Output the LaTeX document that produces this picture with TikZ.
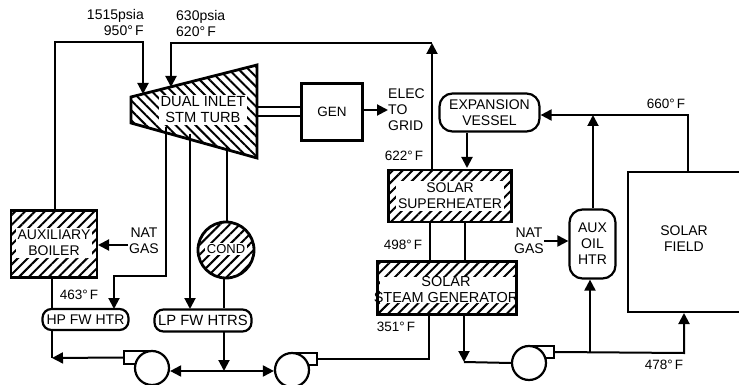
\documentclass[tikz,border=0pt]{standalone}
\usepackage{fontspec}
\setmainfont{Liberation Sans}
\usetikzlibrary{arrows.meta, patterns.meta}
\tikzset{
  lbl/.style={font=\fontsize{14}{16}\selectfont, inner sep=0pt, align=center},
  lblat/.style={font=\fontsize{#1}{16}\selectfont},
  temp/.style={lbl, lblat=13.5},
  hatchbox/.style={draw, line width=2.8pt, inner sep=0pt, pattern={Lines[angle=45,distance=7pt,line width=2pt]}},
  patch/.style={lbl, fill=white, inner xsep=2pt, inner ysep=2pt},
  vessel/.style={draw, line width=2.2pt, inner sep=0pt, fill=white},
  pipe/.style={line width=2pt},
  wheel/.style={draw, circle, line width=2.2pt, fill=white, minimum size=34pt, inner sep=0pt},
  volute/.style={draw, line width=2.2pt, fill=white, inner sep=0pt}
}
\begin{document}
\begin{tikzpicture}[x=1pt, y=-1pt, >={Triangle[width=11pt,length=11pt]}]
  \useasboundingbox (0,0) rectangle (739,385);
  % Turbine
  \coordinate (turbNW) at (131,97); \coordinate (turbNE) at (257,65);
  \coordinate (turbSE) at (257,158); \coordinate (turbSW) at (131,123);
  \draw[line width=2.8pt, line join=miter, pattern={Lines[angle=-45,distance=7pt,line width=2pt]}]
    (turbNW) -- (turbNE) -- (turbSE) -- (turbSW) -- cycle;
  \node[patch, lblat=14.7] (turbtext) at (203,110) {DUAL INLET\\STM TURB};
  % Hatched boxes
  \node[hatchbox, minimum width=86pt, minimum height=67pt] (boiler) at (54,244) {};
  \node[patch] (boilertext) at (54,243) {AUXILIARY\\BOILER};
  \node[hatchbox, circle, minimum size=56pt] (cond) at (226,250) {};
  \node[patch, lblat=13, inner ysep=1pt] (condtext) at (226,249) {COND};
  \node[hatchbox, minimum width=123pt, minimum height=52pt] (superheater) at (450,196) {};
  \node[patch] (superheatertext) at (450,196) {SOLAR\\SUPERHEATER};
  \node[hatchbox, minimum width=139pt, minimum height=53pt] (steamgen) at (447,288) {};
  \node[fill=white, inner sep=0pt, minimum width=135pt, minimum height=26pt] (steamgenpatch) at (447,290) {};
  \node[lbl, lblat=14.5] (steamgentext) at (446,290) {SOLAR\\STEAM GENERATOR};
  % Plain boxes
  \node[draw, line width=2.4pt, minimum width=61pt, minimum height=57pt, lbl, lblat=13.5] (gen) at (332,112) {GEN};
  \node[vessel, lbl, minimum width=100pt, minimum height=38pt, rounded corners=13pt] (expansion) at (489.5,112.5) {EXPANSION\\VESSEL};
  \node[vessel, lbl, minimum width=46pt, minimum height=69pt, rounded corners=13pt] (auxoil) at (592.5,244) {AUX\\OIL\\HTR};
  \node[vessel, lbl, minimum width=86pt, minimum height=21pt, rounded corners=9pt] (hphtr) at (85.5,319.5) {HP FW HTR};
  \node[vessel, lbl, lblat=14.8, minimum width=97pt, minimum height=22pt, rounded corners=9pt] (lphtr) at (203,320.5) {LP FW HTRS};
  % Solar field
  \coordinate (fieldNE) at (739,172); \coordinate (fieldNW) at (628,172);
  \coordinate (fieldSW) at (628,312); \coordinate (fieldSE) at (739,312);
  \draw[line width=2.8pt] (fieldNE) -- (fieldNW) -- (fieldSW) -- (fieldSE);
  \node[lbl] (fieldtext) at (684,239) {SOLAR\\FIELD};
  % Pumps
  \node[volute, minimum width=28pt, minimum height=13pt] (voluteA) at (138,357.5) {};
  \node[wheel] (pumpA) at (152,368) {};
  \node[volute, minimum width=26pt, minimum height=12pt] (voluteB) at (304,359) {};
  \node[wheel] (pumpB) at (292,370) {};
  \node[volute, minimum width=26pt, minimum height=12pt] (voluteC) at (541,352) {};
  \node[wheel] (pumpC) at (529,363) {};
  % Steam lines
  \coordinate (hpcornerA) at (55,42); \coordinate (hpcornerB) at (143,42); \coordinate (hpinlet) at (143,94);
  \coordinate (boilertop) at (55,210);
  \draw[pipe, ->] (boilertop) -- (hpcornerA) -- (hpcornerB) -- (hpinlet);
  \coordinate (shtop) at (432,169); \coordinate (shcorner) at (432,43);
  \coordinate (ipcorner) at (171,43); \coordinate (ipinlet) at (171,87);
  \draw[pipe, ->] (shtop) -- (shcorner);
  \draw[pipe, ->] (shcorner) -- (ipcorner) -- (ipinlet);
  % Extractions
  \coordinate (extA) at (166,127); \coordinate (extAb) at (166,276); \coordinate (extAc) at (114,276);
  \coordinate (hpin) at (114,309);
  \draw[pipe, ->] (extA) -- (extAb) -- (extAc) -- (hpin);
  \coordinate (extB) at (190,134); \coordinate (lpin) at (190,309);
  \draw[pipe, ->] (extB) -- (lpin);
  \coordinate (extC) at (227,146);
  \draw[pipe] (extC) -- (cond.north -| extC);
  % Feedwater
  \coordinate (lpout) at (224,332); \coordinate (trunk) at (224,371);
  \draw[pipe] (cond.south -| lpout) -- (lphtr.north -| lpout);
  \draw[pipe, ->] (lpout) -- (trunk);
  \draw[pipe, ->] (trunk) -- (pumpA.east |- trunk);
  \draw[pipe, ->] (trunk) -- (pumpB.west |- trunk);
  \coordinate (hpfeed) at (52,358);
  \draw[pipe] (boiler.south -| hpfeed) -- (hphtr.north -| hpfeed);
  \draw[pipe] (hphtr.south -| hpfeed) -- (hpfeed);
  \draw[pipe, ->] (voluteA.west) -- (hpfeed);
  \coordinate (sgfeed) at (429,361);
  \draw[pipe] (voluteB.east) -- (voluteB.east -| sgfeed) -- (steamgen.south -| sgfeed);
  % Oil loop
  \coordinate (sgout) at (464,315); \coordinate (sgcorner) at (464,362);
  \draw[pipe, ->] (sgout) -- (sgcorner);
  \draw[pipe] (sgcorner) -- (pumpC.west);
  \coordinate (oilbranch) at (590,353); \coordinate (fieldfeed) at (684,353); \coordinate (fieldin) at (684,313);
  \draw[pipe, ->] (voluteC.east) -- (fieldfeed) -- (fieldin);
  \draw[pipe, ->] (oilbranch) -- (auxoil.south -| oilbranch);
  \coordinate (fieldout) at (688,172); \coordinate (fieldcorner) at (688,115);
  \draw[pipe, ->] (fieldout) -- (fieldcorner) -- (expansion.east |- fieldcorner);
  \coordinate (auxout) at (593,115);
  \draw[pipe, ->] (auxoil.north -| auxout) -- (auxout);
  \coordinate (evdown) at (467,168);
  \draw[pipe, ->] (expansion.south -| evdown) -- (evdown);
  \coordinate (linkA) at (430,222); \coordinate (linkB) at (465,222);
  \draw[pipe] (linkA) -- (steamgen.north -| linkA);
  \draw[pipe] (linkB) -- (steamgen.north -| linkB);
  % Shaft and grid
  \coordinate (shaftA) at (257,107); \coordinate (shaftB) at (257,116);
  \draw[pipe] (shaftA) -- (gen.west |- shaftA);
  \draw[pipe] (shaftB) -- (gen.west |- shaftB);
  \node[lbl, align=left, anchor=west] (elec) at (388,110) {ELEC\\TO\\GRID};
  \draw[pipe, ->] (gen.east |- elec) -- (elec.west);
  % Natural gas
  \node[lbl] (gasA) at (144,241) {NAT\\GAS};
  \coordinate (gasAout) at (128,245);
  \draw[pipe, ->] (gasAout) -- (boiler.east |- gasAout);
  \node[lbl] (gasB) at (529,241) {NAT\\GAS};
  \draw[pipe, ->] (gasB.east) -- (auxoil.west |- gasB);
  % Temperatures
  \node[temp, lblat=14, align=right, anchor=east] (hpstate) at (144,22) {1515psia\\950°\,F};
  \node[temp, lblat=14, align=left, anchor=west] (ipstate) at (176,23) {630psia\\620°\,F};
  \node[temp] (tempA) at (79,295) {463°\,F};
  \node[temp] (tempB) at (404,156) {622°\,F};
  \node[temp] (tempC) at (666,104) {660°\,F};
  \node[temp] (tempD) at (403,245) {498°\,F};
  \node[temp] (tempE) at (396,327) {351°\,F};
  \node[temp] (tempF) at (664,365) {478°\,F};
\end{tikzpicture}
\end{document}
